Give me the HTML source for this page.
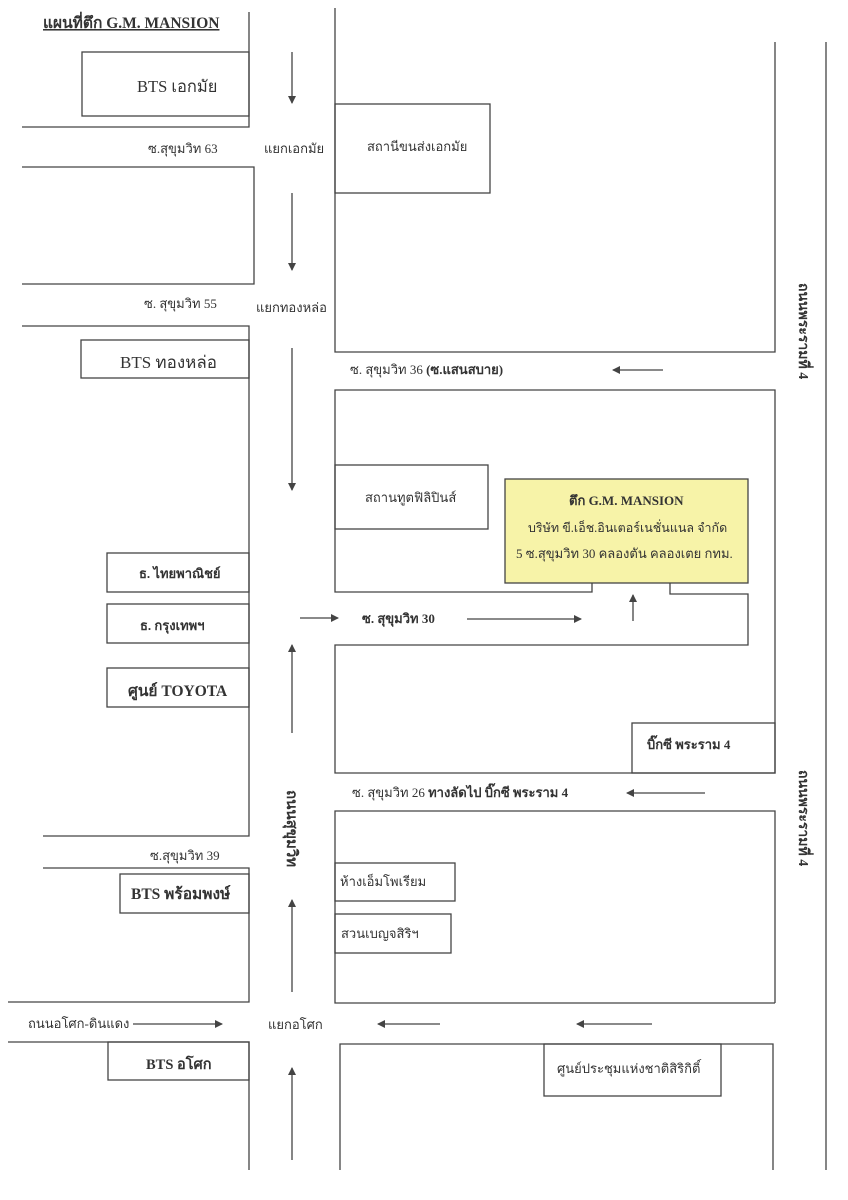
<!DOCTYPE html>
<html><head><meta charset="utf-8"><style>
html,body{margin:0;padding:0;background:#fff;}
svg{display:block;}
text{font-family:"Liberation Serif","DejaVu Serif",serif;fill:#333;font-size:13px;}
.b{font-weight:bold;}
</style></head><body>
<svg width="848" height="1200" viewBox="0 0 848 1200" xmlns="http://www.w3.org/2000/svg">
<defs><marker id="a" markerWidth="8" markerHeight="8" refX="7" refY="4" orient="auto" markerUnits="userSpaceOnUse"><path d="M0,0 L8,4 L0,8 z" fill="#444"/></marker></defs>
<g stroke="#444" stroke-width="1.3" fill="none">
<polyline points="249,12 249,127 22,127"/>
<rect x="82" y="52" width="167" height="64"/>
<polyline points="22,167 254,167 254,284 22,284"/>
<polyline points="22,326 249,326 249,836 43,836"/>
<rect x="81" y="340" width="168" height="38"/>
<rect x="107" y="553" width="142" height="39"/>
<rect x="107" y="604" width="142" height="39"/>
<rect x="107" y="668" width="142" height="39"/>
<polyline points="43,868 249,868 249,1002 8,1002"/>
<rect x="120" y="874" width="129" height="39"/>
<polyline points="8,1042 249,1042 249,1170"/>
<rect x="108" y="1042" width="141" height="38"/>
<polyline points="335,8 335,352 775,352 775,42"/>
<rect x="335" y="104" width="155" height="89"/>
<polyline points="592,583 592,592 335,592 335,390 775,390 775,773 335,773 335,645 748,645 748,594 670,594 670,583"/>
<rect x="335" y="465" width="153" height="64"/>
<rect x="632" y="723" width="143" height="50"/>
<polyline points="775,1003 335,1003 335,811 775,811 775,1003"/>
<rect x="335" y="863" width="120" height="38"/>
<rect x="335" y="914" width="116" height="39"/>
<polyline points="340,1170 340,1044 773,1044 773,1170"/>
<rect x="544" y="1044" width="177" height="52"/>
<line x1="826" y1="42" x2="826" y2="1170"/>
<line x1="292" y1="52" x2="292" y2="103" marker-end="url(#a)"/>
<line x1="292" y1="193" x2="292" y2="270" marker-end="url(#a)"/>
<line x1="292" y1="348" x2="292" y2="490" marker-end="url(#a)"/>
<line x1="292" y1="733" x2="292" y2="645" marker-end="url(#a)"/>
<line x1="292" y1="992" x2="292" y2="900" marker-end="url(#a)"/>
<line x1="292" y1="1160" x2="292" y2="1068" marker-end="url(#a)"/>
<line x1="300" y1="618" x2="338" y2="618" marker-end="url(#a)"/>
<line x1="467" y1="619" x2="581" y2="619" marker-end="url(#a)"/>
<line x1="633" y1="621" x2="633" y2="595" marker-end="url(#a)"/>
<line x1="663" y1="370" x2="613" y2="370" marker-end="url(#a)"/>
<line x1="705" y1="793" x2="627" y2="793" marker-end="url(#a)"/>
<line x1="133" y1="1024" x2="222" y2="1024" marker-end="url(#a)"/>
<line x1="440" y1="1024" x2="378" y2="1024" marker-end="url(#a)"/>
<line x1="652" y1="1024" x2="577" y2="1024" marker-end="url(#a)"/>
</g>
<rect x="505" y="479" width="243" height="104" fill="#f7f3a8" stroke="#444" stroke-width="1.3"/>
<text x="43" y="28" class="b" style="font-size:15.5px" text-decoration="underline">แผนที่ตึก  G.M. MANSION</text>
<text x="137" y="92" style="font-size:16.5px">BTS เอกมัย</text>
<text x="148" y="153">ซ.สุขุมวิท  63</text>
<text x="264" y="153">แยกเอกมัย</text>
<text x="367" y="151">สถานีขนส่งเอกมัย</text>
<text x="144" y="308">ซ. สุขุมวิท  55</text>
<text x="256" y="312">แยกทองหล่อ</text>
<text x="120" y="368" style="font-size:17px">BTS  ทองหล่อ</text>
<text x="350" y="374">ซ. สุขุมวิท 36  <tspan class="b">(ซ.แสนสบาย)</tspan></text>
<text x="365" y="502">สถานทูตฟิลิปินส์</text>
<text x="569" y="505" class="b">ตึก G.M.  MANSION</text>
<text x="528" y="532" style="font-size:12.5px">บริษัท ขี.เอ็ช.อินเตอร์เนชั่นแนล จำกัด</text>
<text x="516" y="558">5  ซ.สุขุมวิท 30 คลองตัน  คลองเตย กทม.</text>
<text x="139" y="578" class="b">ธ. ไทยพาณิชย์</text>
<text x="140" y="630" class="b">ธ. กรุงเทพฯ</text>
<text x="362" y="623" class="b">ซ. สุขุมวิท  30</text>
<text x="128" y="696" class="b" style="font-size:15.5px">ศูนย์  TOYOTA</text>
<text x="647" y="749" class="b">บิ๊กซี พระราม 4</text>
<text x="352" y="797">ซ. สุขุมวิท  26  <tspan class="b">ทางลัดไป บิ๊กซี พระราม 4</tspan></text>
<text x="150" y="860">ซ.สุขุมวิท  39</text>
<text x="131" y="899" class="b" style="font-size:15.5px">BTS พร้อมพงษ์</text>
<text x="340" y="886">ห้างเอ็มโพเรียม</text>
<text x="341" y="938">สวนเบญจสิริฯ</text>
<text x="28" y="1028">ถนนอโศก-ดินแดง</text>
<text x="268" y="1029">แยกอโศก</text>
<text x="146" y="1069" class="b" style="font-size:14.5px">BTS อโศก</text>
<text x="557" y="1073">ศูนย์ประชุมแห่งชาติสิริกิติ์</text>
<text transform="translate(287,790) rotate(90)" class="b" style="font-size:15px">ถนนสุขุมวิท</text>
<text transform="translate(799,283) rotate(90)" class="b" style="font-size:14px">ถนนพระรามที่  4</text>
<text transform="translate(799,770) rotate(90)" class="b" style="font-size:14px">ถนนพระรามที่  4</text>
</svg>
</body></html>
